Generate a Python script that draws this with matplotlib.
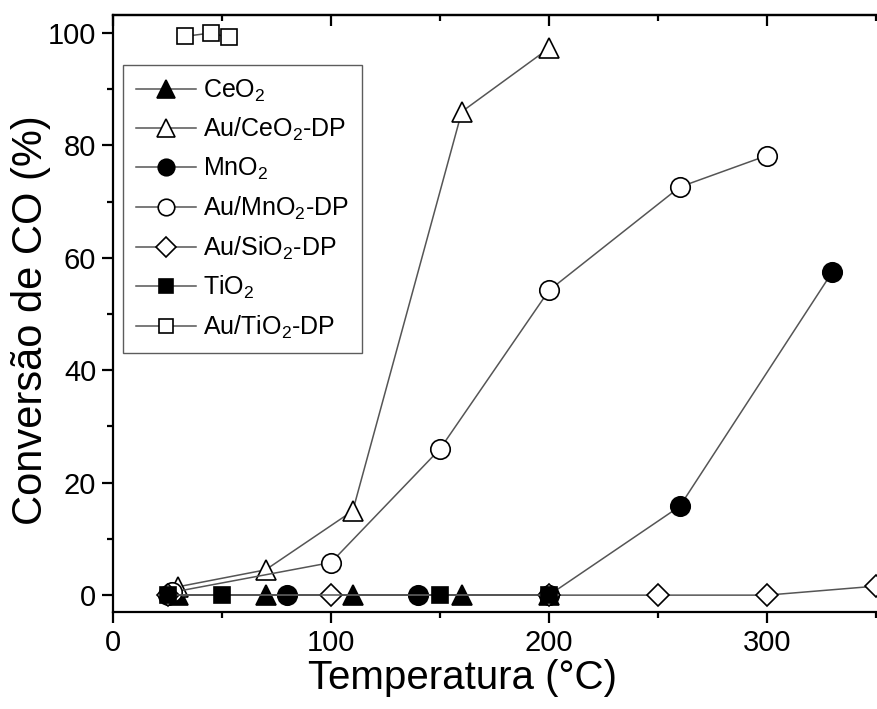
import matplotlib
matplotlib.use('Agg')
import matplotlib.pyplot as plt
from matplotlib.ticker import MultipleLocator

plt.rcParams['font.family'] = ['Liberation Sans', 'DejaVu Sans']
plt.rcParams['mathtext.default'] = 'regular'

# conversão de CO vs temperatura
ceo2_t = [30, 70, 110, 160, 200]
ceo2_y = [0, 0, 0, 0, 0]
au_ceo2_t = [30, 70, 110, 160, 200]
au_ceo2_y = [1.5, 4.5, 15, 86, 97.3]
mno2_t = [25, 80, 140, 200, 260, 330]
mno2_y = [0, 0, 0, 0, 15.8, 57.5]
au_mno2_t = [27, 100, 150, 200, 260, 300]
au_mno2_y = [0.5, 5.8, 26, 54.2, 72.6, 78.2]
au_sio2_t = [25, 100, 200, 250, 300, 350]
au_sio2_y = [0, 0, 0, 0, 0, 1.6]
tio2_t = [25, 50, 150, 200]
tio2_y = [0, 0, 0, 0]
au_tio2_t = [33, 45, 53]
au_tio2_y = [99.4, 100, 99.2]

W, H = 877, 709
fig = plt.figure(figsize=(W / 100, H / 100), dpi=100)
x0, y_top, y_bot = 113, 15, 612
px_per_unit = 2.18
xmax = 360
ax_w = px_per_unit * xmax
ax_h = y_bot - y_top
ax = fig.add_axes([x0 / W, 1 - y_bot / H, ax_w / W, ax_h / H])

line_kw = dict(color='#555555', linewidth=1.1, markeredgecolor='black', markeredgewidth=1.2)

series = [
    (ceo2_t, ceo2_y, '^', 'black', 15, 'CeO$_2$'),
    (au_ceo2_t, au_ceo2_y, '^', 'white', 15, 'Au/CeO$_2$-DP'),
    (mno2_t, mno2_y, 'o', 'black', 14, 'MnO$_2$'),
    (au_mno2_t, au_mno2_y, 'o', 'white', 14, 'Au/MnO$_2$-DP'),
    (au_sio2_t, au_sio2_y, 'D', 'white', 11.5, 'Au/SiO$_2$-DP'),
    (tio2_t, tio2_y, 's', 'black', 12, 'TiO$_2$'),
    (au_tio2_t, au_tio2_y, 's', 'white', 12, 'Au/TiO$_2$-DP'),
]
for t, y, m, fc, ms, lab in series:
    ax.plot(t, y, marker=m, markerfacecolor=fc, markersize=ms, label=lab, clip_on=False, **line_kw)

ax.set_xlim(0, xmax)
ax.set_ylim(-3, 103.2)
ax.xaxis.set_major_locator(MultipleLocator(100))
ax.xaxis.set_minor_locator(MultipleLocator(50))
ax.yaxis.set_major_locator(MultipleLocator(20))
ax.yaxis.set_minor_locator(MultipleLocator(10))

for s in ax.spines.values():
    s.set_linewidth(1.6)
ax.tick_params(which='both', direction='out', top=False, right=False, width=1.6)
ax.tick_params(which='major', length=8, labelsize=21, pad=4)
ax.tick_params(which='minor', length=4.5)

# ticks internos no topo
top = ax.secondary_xaxis('top')
top.xaxis.set_major_locator(MultipleLocator(100))
top.xaxis.set_minor_locator(MultipleLocator(50))
top.tick_params(which='both', direction='in', width=1.6, labeltop=False)
top.tick_params(which='major', length=8)
top.tick_params(which='minor', length=4.5)
top.spines['top'].set_linewidth(1.6)

ax.set_xlabel('Temperatura (°C)', fontsize=29)
ax.set_ylabel('Conversão de CO (%)', fontsize=30)
ax.xaxis.set_label_coords((462 - x0) / ax_w, -(678 - y_bot) / ax_h, transform=ax.transAxes)
ax.xaxis.label.set_va('center')
ax.yaxis.set_label_coords(-(x0 - 31) / ax_w, (y_bot - 320) / ax_h, transform=ax.transAxes)
ax.yaxis.label.set_va('center')

leg = ax.legend(loc='upper left', bbox_to_anchor=(10 / ax_w, (y_bot - 65) / ax_h),
                borderaxespad=0, fontsize=18, frameon=True, fancybox=False, edgecolor='#333333',
                handlelength=2.4, handletextpad=0.3, labelspacing=0.5, borderpad=0.5,
                markerscale=0.85)
leg.get_frame().set_linewidth(1.0)

fig.savefig('out.png', dpi=100)
